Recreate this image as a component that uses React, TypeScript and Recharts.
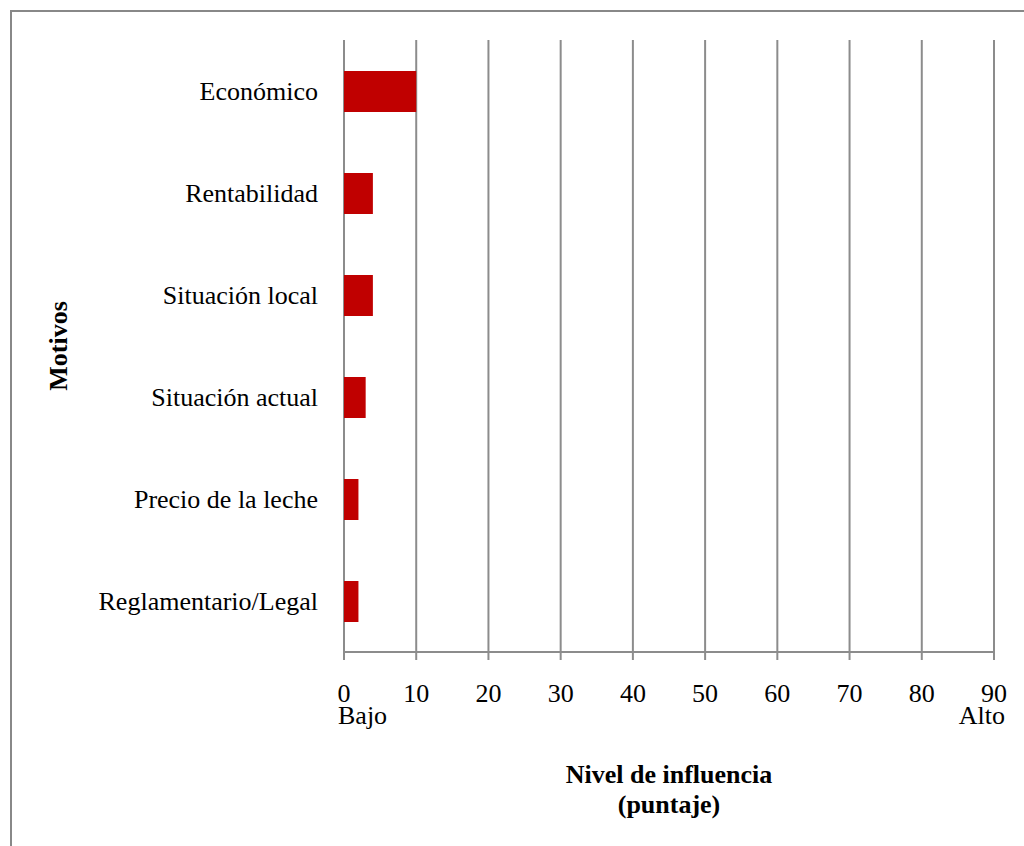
import React from "react";
import { BarChart, Bar, XAxis, YAxis, CartesianGrid } from "recharts";

const categories = [
  "Económico",
  "Rentabilidad",
  "Situación local",
  "Situación actual",
  "Precio de la leche",
  "Reglamentario/Legal",
];
const values = [10, 4, 4, 3, 2, 2];
const xTicks = [0, 10, 20, 30, 40, 50, 60, 70, 80, 90];
const xTitle = ["Nivel de influencia", "(puntaje)"];
const yTitle = "Motivos";
const lowLabel = "Bajo";
const highLabel = "Alto";

const data = categories.map((name, i) => ({ name, value: values[i] }));

const FONT = '"Liberation Serif", "Times New Roman", serif';
const GRID = "#8c8c8c";

const XTick = (props: any) => {
  const { x, y, payload } = props;
  const v = payload.value;
  const isLow = v === xTicks[0];
  const isHigh = v === xTicks[xTicks.length - 1];
  return (
    <text x={x} y={y + 42} fontFamily={FONT} fontSize={26} fill="#000">
      <tspan x={x} y={y + 42} textAnchor="middle">{v}</tspan>
      {isLow && (
        <tspan x={x - 6} y={y + 64} textAnchor="start">{lowLabel}</tspan>
      )}
      {isHigh && (
        <tspan x={x + 11} y={y + 64} textAnchor="end">{highLabel}</tspan>
      )}
    </text>
  );
};

const YTick = (props: any) => {
  const { x, y, payload } = props;
  return (
    <text x={x} y={y} dy="0.35em" textAnchor="end" fontFamily={FONT} fontSize={26} fill="#000">
      {payload.value}
    </text>
  );
};

const XTitle = (props: any) => {
  const { viewBox } = props;
  const cx = viewBox.x + viewBox.width / 2;
  return (
    <g>
      <text x={cx} y={viewBox.y + 131} textAnchor="middle" fontFamily={FONT} fontSize={26} fontWeight="bold" fill="#000">
        {xTitle[0]}
      </text>
      <text x={cx} y={viewBox.y + 161} textAnchor="middle" fontFamily={FONT} fontSize={26} fontWeight="bold" fill="#000">
        {xTitle[1]}
      </text>
    </g>
  );
};

const YTitle = (props: any) => {
  const { viewBox } = props;
  const cy = viewBox.y + viewBox.height / 2;
  const tx = 67;
  return (
    <text
      x={tx}
      y={cy}
      transform={`rotate(-90, ${tx}, ${cy})`}
      textAnchor="middle"
      fontFamily={FONT}
      fontSize={26}
      fontWeight="bold"
      fill="#000"
    >
      {yTitle}
    </text>
  );
};

export default function App() {
  return (
    <div style={{ position: "absolute", left: 0, top: 0, width: 1024, height: 846, overflow: "hidden", background: "#fff" }}>
      <div
        style={{
          position: "absolute",
          left: 10,
          top: 10,
          width: 1100,
          height: 900,
          border: "2px solid #888",
          boxSizing: "border-box",
        }}
      />
      <div style={{ position: "absolute", left: 0, top: 0 }}>
        <BarChart
          width={1024}
          height={846}
          data={data}
          layout="vertical"
          margin={{ top: 40, right: 30, bottom: 0, left: 0 }}
          barSize={41}
        >
          <CartesianGrid horizontal={false} vertical={true} stroke={GRID} strokeWidth={2} />
          <XAxis
            type="number"
            domain={[0, 90]}
            ticks={xTicks}
            interval={0}
            height={194}
            tickSize={8}
            tickMargin={0}
            axisLine={{ stroke: GRID, strokeWidth: 2 }}
            tickLine={{ stroke: GRID, strokeWidth: 2 }}
            tick={<XTick />}
            label={<XTitle />}
          />
          <YAxis
            type="category"
            dataKey="name"
            width={344}
            tickSize={0}
            tickMargin={26}
            axisLine={false}
            tickLine={false}
            tick={<YTick />}
            interval={0}
            label={<YTitle />}
          />
          <Bar dataKey="value" fill="#C00000" isAnimationActive={false} />
        </BarChart>
      </div>
    </div>
  );
}
